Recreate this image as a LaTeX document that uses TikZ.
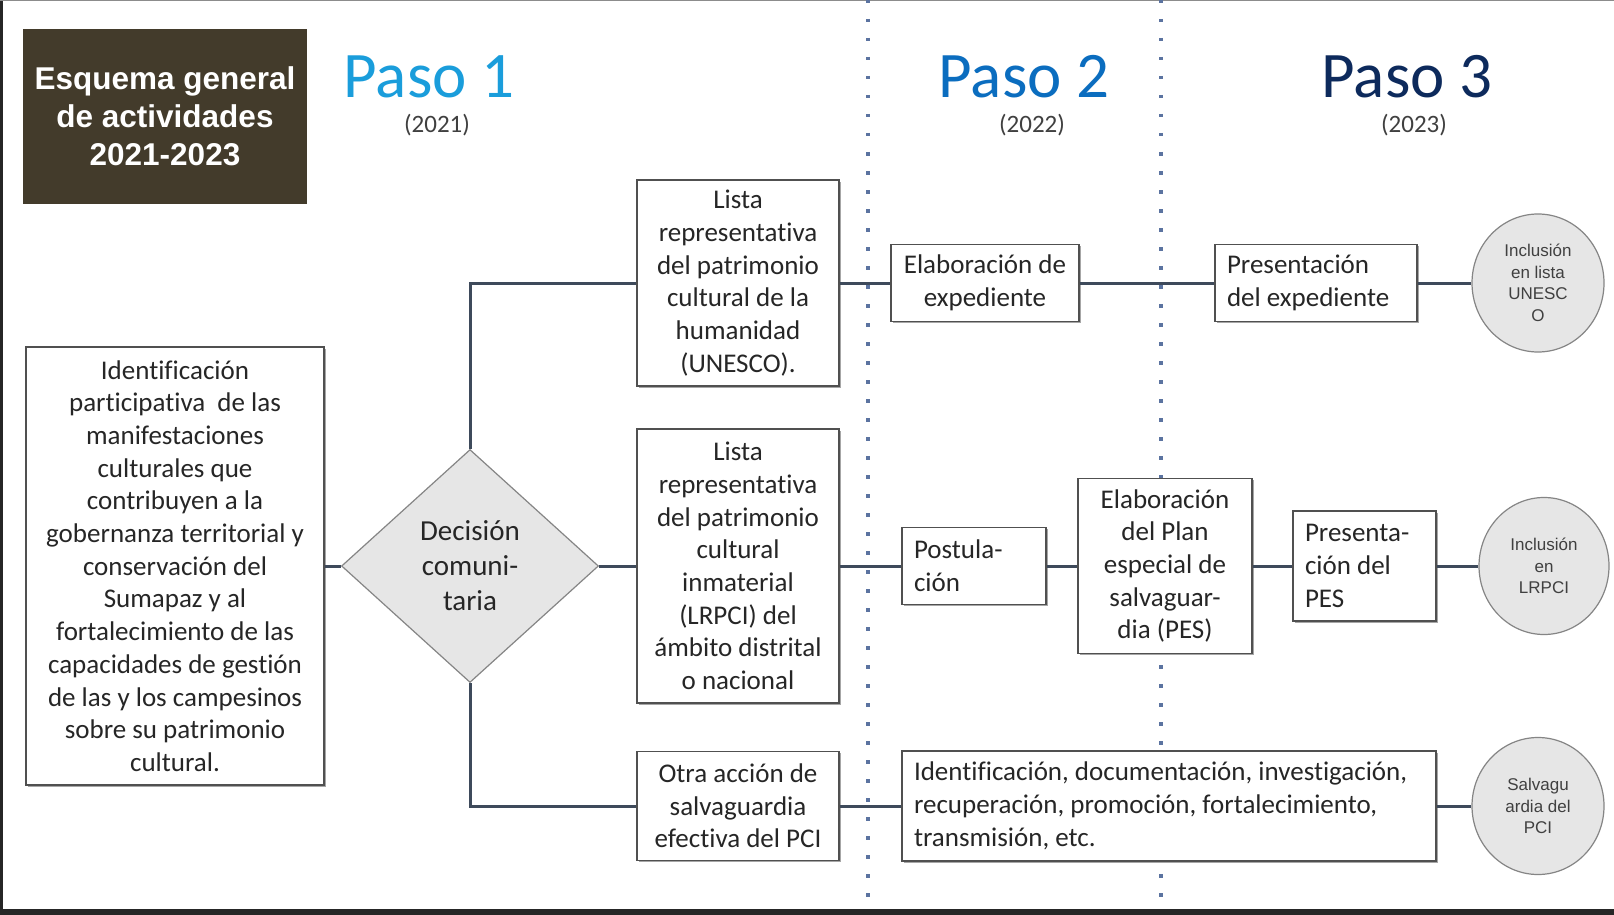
\documentclass[tikz,border=0pt]{standalone}
\usepackage{fontspec}
\setmainfont{Carlito}[Ligatures=NoCommon]
\newfontfamily\arialfont{Liberation Sans}
\usetikzlibrary{shapes.geometric,shadows}
\definecolor{titlebg}{HTML}{433B2B}
\definecolor{edgedark}{HTML}{262626}
\definecolor{topgrey}{HTML}{8C8C8C}
\definecolor{pasoA}{HTML}{1A9DDB}
\definecolor{pasoB}{HTML}{0B6DBF}
\definecolor{pasoC}{HTML}{0D2A5C}
\definecolor{yeargrey}{HTML}{404040}
\definecolor{textdark}{HTML}{262626}
\definecolor{boxborder}{HTML}{505050}
\definecolor{connc}{HTML}{3E4A5B}
\definecolor{dotc}{HTML}{5B73A0}
\definecolor{shapegrey}{HTML}{E6E6E6}
\definecolor{circborder}{HTML}{858585}
\tikzset{
  bodyfont/.style={font=\fontsize{27}{32.7}\selectfont},
  box/.style={draw=boxborder, line width=1.3pt, fill=white, inner sep=0pt,
    align=center, bodyfont, text=textdark,
    execute at begin node={\spaceskip=0pt\xspaceskip=0pt},
    drop shadow={shadow xshift=1.5pt, shadow yshift=-1.5pt, fill=black, opacity=0.35}},
  boxleft/.style={box, align=left, inner xsep=12pt},
  decision/.style={shape=diamond, draw=circborder, line width=1.2pt, fill=shapegrey,
    inner sep=0pt, align=center, text=textdark, font=\fontsize{29}{35}\selectfont},
  goal/.style={shape=ellipse, draw=circborder, line width=1.2pt, fill=shapegrey,
    inner sep=0pt, minimum width=132pt, minimum height=138pt, align=center,
    text=yeargrey, font=\arialfont\fontsize{17}{21.6}\selectfont},
  conn/.style={draw=connc, line width=3pt},
  sepline/.style={draw=dotc, line width=3.5pt, dash pattern=on 3.5pt off 15.5pt},
  pasotitle/.style={font=\fontsize{65}{70}\selectfont, inner sep=0pt},
  yeartext/.style={font=\fontsize{25}{28}\selectfont, text=yeargrey, inner sep=0pt},
}
\begin{document}
\begin{tikzpicture}[x=1pt,y=-1pt]
\useasboundingbox (0,0) rectangle (1614,915);
\fill[white] (0,0) rectangle (1614,915);
\fill[edgedark] (0,0) rectangle (3,915);
\fill[topgrey] (0,0) rectangle (1614,1.5);
\fill[edgedark] (0,909) rectangle (1614,915);

% separators
\coordinate (s1top) at (868,0);
\coordinate (s1bot) at (868,902);
\coordinate (s2top) at (1161,0);
\coordinate (s2bot) at (1161,902);
\draw[sepline] (s1top) -- (s1bot);
\draw[sepline] (s2top) -- (s2bot);

% title
\node[fill=titlebg, minimum width=284pt, minimum height=175pt, inner sep=0pt,
  text=white, align=center, font=\arialfont\bfseries\fontsize{31.5}{38}\selectfont]
  (title) at (165,116.5) {Esquema general\\de actividades\\2021-2023};

\node[pasotitle, text=pasoA] (p1) at (429,77) {Paso 1};
\node[yeartext] (y1) at (437,125) {(2021)};
\node[pasotitle, text=pasoB] (p2) at (1024,77) {Paso 2};
\node[yeartext] (y2) at (1032,125) {(2022)};
\node[pasotitle, text=pasoC] (p3) at (1407,77) {Paso 3};
\node[yeartext] (y3) at (1414,125) {(2023)};

% nodes
\node[box, minimum width=298pt, minimum height=438pt] (ident) at (175,566)
  {Identificación\\participativa\ \ de las\\manifestaciones\\culturales que\\contribuyen a la\\gobernanza territorial y\\conservación del\\Sumapaz y al\\fortalecimiento de las\\capacidades de gestión\\de las y los campesinos\\sobre su patrimonio\\cultural.};

\node[decision, minimum width=257pt, minimum height=233pt] (dec) at (470,566)
  {Decisión\\comuni-\\taria};

\node[box, minimum width=202pt, minimum height=206pt] (unesco) at (738,283)
  {Lista\\representativa\\del patrimonio\\cultural de la\\humanidad\\(UNESCO).};
\node[box, minimum width=202pt, minimum height=274pt] (lrpci) at (738,566)
  {Lista\\representativa\\del patrimonio\\cultural\\inmaterial\\(LRPCI) del\\ámbito distrital\\o nacional};
\node[box, minimum width=202pt, minimum height=109pt] (otra) at (738,806)
  {Otra acción de\\salvaguardia\\efectiva del PCI};

\node[box, minimum width=188pt, minimum height=77pt] (elab) at (985,283)
  {Elaboración de\\expediente};
\node[boxleft, text width=178pt, minimum height=77pt] (pres) at (1316,283)
  {Presentación\\del expediente};
\node[goal] (circ1) at (1538,283) {Inclusión\\en lista\\UNESC\\O};

\node[boxleft, text width=120pt, minimum height=77pt] (post) at (974,566)
  {Postula-\\ción};
\node[box, minimum width=174pt, minimum height=175pt] (plan) at (1165,566)
  {Elaboración\\del Plan\\especial de\\salvaguar-\\dia (PES)};
\node[boxleft, text width=119pt, minimum height=110pt] (prespes) at (1364.5,566)
  {Presenta-\\ción del\\PES};
\node[goal, minimum width=130pt, minimum height=137pt] (circ2) at (1544,566)
  {Inclusión\\en\\LRPCI};

\node[boxleft, text width=510pt, minimum height=110pt] (idoc) at (1169,806)
  {Identificación, documentación, investigación,\\recuperación, promoción, fortalecimiento,\\transmisión, etc.};
\node[goal, minimum height=137pt] (circ3) at (1538,806)
  {Salvagu\\ardia del\\PCI};

% connectors
\draw[conn] (ident.east) -- (dec.west);
\draw[conn] (dec.north) |- (unesco.west);
\draw[conn] (dec.east) -- (lrpci.west);
\draw[conn] (dec.south) |- (otra.west);
\draw[conn] (unesco.east) -- (elab.west);
\draw[conn] (elab.east) -- (pres.west);
\draw[conn] (pres.east) -- (circ1.west);
\draw[conn] (lrpci.east) -- (post.west);
\draw[conn] (post.east) -- (plan.west);
\draw[conn] (plan.east) -- (prespes.west);
\draw[conn] (prespes.east) -- (circ2.west);
\draw[conn] (otra.east) -- (idoc.west);
\draw[conn] (idoc.east) -- (circ3.west);
\end{tikzpicture}
\end{document}
